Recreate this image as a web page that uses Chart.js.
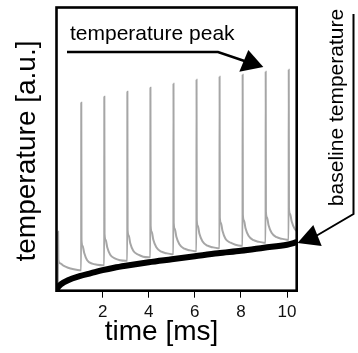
<!DOCTYPE html>
<html>
<head>
<meta charset="utf-8">
<script src="https://cdn.jsdelivr.net/npm/chart.js@4"></script>
<style>
  html, body { margin: 0; padding: 0; background: #fff; }
  canvas { display: block; }
</style>
</head>
<body>
<canvas id="chart" width="358" height="353"></canvas>
<script>
// ===== dados =====
const xTicks = [2, 4, 6, 8, 10];

const baselineTime = [0, 0.05, 0.2, 0.5, 1, 1.5, 2, 2.5, 3, 4, 5, 6, 7, 8, 9, 10, 10.42];
const baselineTemp = [0, 3, 6.5, 10.5, 14.5, 17.5, 20.5, 23, 25, 28.5, 31.5, 34.5, 37.5, 40, 43, 46, 48.5];

// traço completo (picos + decaimento), um pulso por linha
const traceTime = [
  0.06, 0.07, 0.08, 0.15, 0.3, 0.5, 0.75, 1.0,
  1.07, 1.075, 1.085, 1.13, 1.2, 1.33, 1.55, 1.76, 2.0,
  2.07, 2.075, 2.085, 2.13, 2.2, 2.33, 2.55, 2.76, 3.0,
  3.07, 3.075, 3.085, 3.13, 3.2, 3.33, 3.55, 3.76, 4.0,
  4.07, 4.075, 4.085, 4.13, 4.2, 4.33, 4.55, 4.76, 5.0,
  5.07, 5.075, 5.085, 5.13, 5.2, 5.33, 5.55, 5.76, 6.0,
  6.07, 6.075, 6.085, 6.13, 6.2, 6.33, 6.55, 6.76, 7.0,
  7.07, 7.075, 7.085, 7.13, 7.2, 7.33, 7.55, 7.76, 8.0,
  8.07, 8.075, 8.085, 8.13, 8.2, 8.33, 8.55, 8.76, 9.0,
  9.07, 9.075, 9.085, 9.13, 9.2, 9.33, 9.55, 9.76, 10.0,
  10.07, 10.075, 10.085, 10.13, 10.2, 10.33, 10.55
];
const traceTemp = [
  3, 59, 31, 27.5, 25, 23, 21.5, 20.5,
  20.5, 188, 51, 45, 38, 30.5, 27, 26, 25.5,
  25.5, 194, 57, 51, 43.5, 36, 32, 30.5, 30,
  30, 199, 61, 55.5, 47.5, 40, 36, 34, 33.5,
  33.5, 203, 65, 59, 51, 43.5, 39, 37.5, 36.5,
  36.5, 207, 68, 62, 54, 46.5, 42, 40.5, 39.5,
  39.5, 211, 71, 65, 57, 49.5, 45, 43.5, 42.5,
  42.5, 214, 73.5, 68, 60, 52, 48, 46, 45,
  45, 216, 76, 70.5, 62.5, 55, 50.5, 49, 48,
  48, 219, 79, 73.5, 65.5, 58, 53.5, 52, 51,
  51, 221, 82.5, 77, 69.5, 62, 58
];

const FONT = '"Liberation Sans", Arial, sans-serif';

// ===== moldura, títulos e anotações =====
const decor = {
  id: 'decor',
  afterDraw(chart) {
    const ctx = chart.ctx;
    const a = chart.chartArea;
    ctx.save();
    ctx.strokeStyle = '#000';
    ctx.fillStyle = '#000';

    // moldura
    ctx.lineWidth = 2.6;
    ctx.strokeRect(a.left, a.top, a.right - a.left, a.bottom - a.top);

    // títulos dos eixos
    ctx.font = '28px ' + FONT;
    ctx.textAlign = 'center';
    ctx.textBaseline = 'alphabetic';
    ctx.fillText('time [ms]', 161.5, 340);

    ctx.save();
    ctx.translate(35, 151);
    ctx.rotate(-Math.PI / 2);
    ctx.fillText('temperature [a.u.]', 0, 0);
    ctx.restore();

    // "temperature peak"
    ctx.font = '21px ' + FONT;
    ctx.textAlign = 'left';
    ctx.fillText('temperature peak', 70, 40);
    ctx.lineWidth = 2.5;
    ctx.beginPath();
    ctx.moveTo(67, 52);
    ctx.lineTo(218, 52);
    ctx.lineTo(246, 61.5);
    ctx.stroke();
    ctx.beginPath();
    ctx.moveTo(248.3, 50);
    ctx.lineTo(263.3, 67);
    ctx.lineTo(239.3, 71.7);
    ctx.closePath();
    ctx.fill();

    // "baseline temperature"
    ctx.save();
    ctx.translate(343, 107.5);
    ctx.rotate(-Math.PI / 2);
    ctx.textAlign = 'center';
    ctx.fillText('baseline temperature', 0, 0);
    ctx.restore();
    ctx.lineWidth = 2;
    ctx.beginPath();
    ctx.moveTo(353.5, 14);
    ctx.lineTo(353.5, 214);
    ctx.lineTo(316, 236);
    ctx.stroke();
    ctx.beginPath();
    ctx.moveTo(313.3, 225);
    ctx.lineTo(297.5, 243);
    ctx.lineTo(321.7, 246);
    ctx.closePath();
    ctx.fill();

    ctx.restore();
  }
};

new Chart(document.getElementById('chart'), {
  type: 'line',
  data: {
    datasets: [
      {
        label: 'baseline temperature',
        data: baselineTime.map((t, i) => ({ x: t, y: baselineTemp[i] })),
        borderColor: '#000',
        borderWidth: 6,
        borderCapStyle: 'round',
        cubicInterpolationMode: 'monotone',
        pointRadius: 0
      },
      {
        label: 'temperature',
        data: traceTime.map((t, i) => ({ x: t, y: traceTemp[i] })),
        borderColor: '#a6a6a6',
        borderWidth: 2,
        cubicInterpolationMode: 'monotone',
        pointRadius: 0
      }
    ]
  },
  options: {
    responsive: false,
    animation: false,
    layout: { padding: { left: 56.5, top: 7.5, right: 61.3, bottom: 0 } },
    plugins: { legend: { display: false }, tooltip: { enabled: false } },
    scales: {
      x: {
        type: 'linear',
        min: 0,
        max: 10.42,
        afterFit(s) { s.height = 62.3; },
        afterTickToLabelConversion(s) {
          s.ticks = s.ticks.filter(t => xTicks.includes(t.value));
        },
        border: { display: false },
        grid: { drawOnChartArea: false, tickLength: 7, color: '#000', lineWidth: 1 },
        ticks: {
          stepSize: 2,
          includeBounds: false,
          autoSkip: false,
          padding: 4,
          maxRotation: 0,
          color: '#111',
          font: { family: FONT, size: 17 }
        }
      },
      y: { display: false, min: 0, max: 283.2 }
    }
  },
  plugins: [decor]
});
</script>
</body>
</html>
